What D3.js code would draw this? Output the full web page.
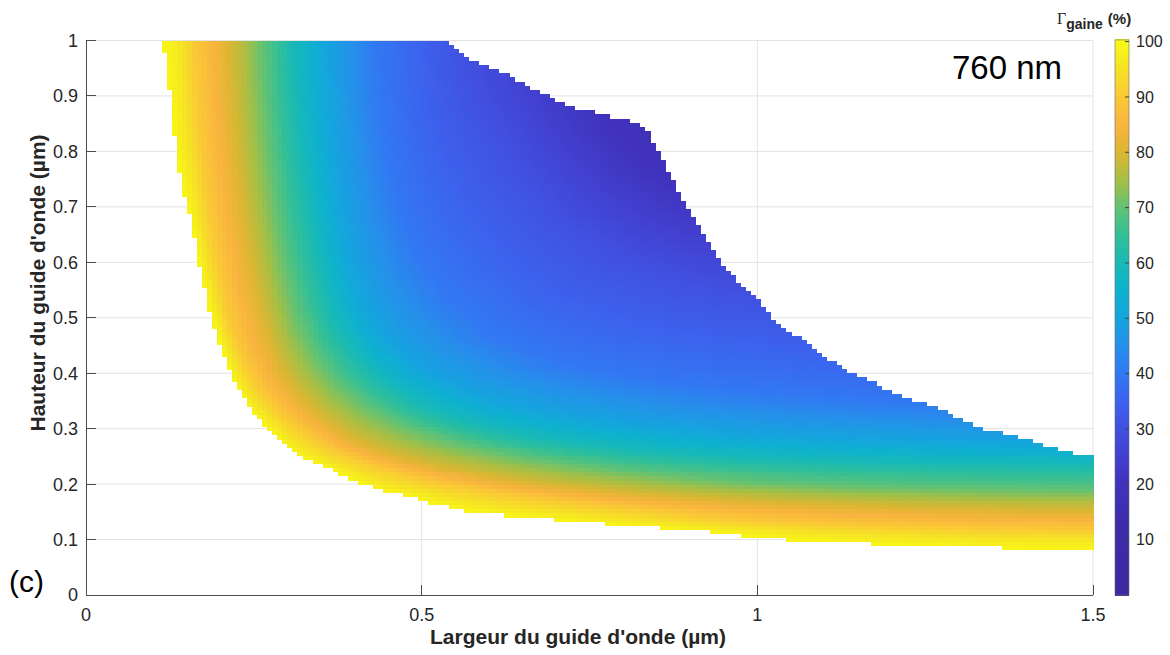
<!DOCTYPE html>
<html><head><meta charset="utf-8">
<script src="https://cdn.jsdelivr.net/npm/d3@7"></script>
<style>
body{margin:0;background:#fff}
text{font-family:"Liberation Sans",Arial,sans-serif;fill:#262626}
</style>
</head><body>
<svg id="chart" width="1170" height="655"></svg>
<script>
// ---------- data ----------
const xTicks = [0, 0.5, 1, 1.5];
const xTickLabels = ["0", "0.5", "1", "1.5"];
const yTicks = [0, 0.1, 0.2, 0.3, 0.4, 0.5, 0.6, 0.7, 0.8, 0.9, 1];
const yTickLabels = ["0", "0.1", "0.2", "0.3", "0.4", "0.5", "0.6", "0.7", "0.8", "0.9", "1"];
const cbTicks = [10, 20, 30, 40, 50, 60, 70, 80, 90, 100];

// lower boundary (cut-off) of the computed domain: width (µm) -> height (µm)
const cutoffW = [0.113,0.12,0.128,0.135,0.144,0.155,0.17,0.185,0.2,0.215,0.23,0.244,0.267,0.289,0.319,0.349,0.393,0.438,0.468,0.5,0.557,0.617,0.766,0.915,1.0,1.12,1.27,1.5];
const cutoffH = [1.0,0.952,0.86,0.79,0.73,0.685,0.586,0.505,0.45,0.405,0.364,0.337,0.306,0.28,0.25,0.234,0.21,0.19,0.184,0.171,0.153,0.145,0.13,0.117,0.103,0.095,0.088,0.081];

// upper boundary (multimode limit)
const multimodeW = [0.538,0.575,0.612,0.65,0.69,0.73,0.78,0.81,0.835,0.84,0.86,0.88,0.905,0.925,0.95,0.975,1.0,1.024,1.049,1.074,1.098,1.123,1.148,1.172,1.198,1.217,1.26,1.3,1.332,1.362,1.406,1.455,1.5];
const multimodeH = [1.0,0.965,0.947,0.923,0.898,0.878,0.862,0.857,0.842,0.82,0.779,0.73,0.682,0.64,0.592,0.562,0.532,0.496,0.472,0.455,0.43,0.412,0.394,0.383,0.367,0.356,0.343,0.318,0.301,0.294,0.28,0.258,0.25];

// iso-lines of Γgaine (%): [width, height]
const gammaLevels = [99, 90, 80, 70, 60, 50, 40, 30, 20, 15];
const iso90 = [[0.16,1.0],[0.165,0.9],[0.172,0.8],[0.182,0.7],[0.196,0.6],[0.212,0.5],[0.235,0.42],[0.26,0.37],[0.29,0.33],[0.33,0.29],[0.38,0.255],[0.44,0.228],[0.52,0.203],[0.62,0.183],[0.75,0.163],[0.9,0.145],[1.0,0.133],[1.2,0.125],[1.5,0.117]];
const iso80 = [[0.212,1.0],[0.217,0.9],[0.224,0.8],[0.234,0.7],[0.247,0.6],[0.264,0.5],[0.287,0.42],[0.312,0.37],[0.347,0.325],[0.39,0.287],[0.45,0.257],[0.53,0.23],[0.63,0.208],[0.8,0.186],[1.0,0.168],[1.2,0.159],[1.5,0.151]];
const iso70 = [[0.262,1.0],[0.267,0.9],[0.274,0.8],[0.284,0.7],[0.297,0.6],[0.316,0.5],[0.343,0.43],[0.376,0.38],[0.42,0.34],[0.48,0.302],[0.56,0.272],[0.66,0.247],[0.8,0.224],[1.0,0.204],[1.2,0.196],[1.5,0.19]];
const iso60 = [[0.308,1.0],[0.313,0.9],[0.32,0.8],[0.331,0.7],[0.346,0.6],[0.367,0.5],[0.397,0.44],[0.437,0.39],[0.495,0.345],[0.57,0.31],[0.67,0.284],[0.83,0.26],[1.0,0.246],[1.2,0.239],[1.5,0.235]];
const iso50 = [[0.358,1.0],[0.363,0.9],[0.37,0.8],[0.38,0.7],[0.396,0.6],[0.418,0.52],[0.448,0.46],[0.495,0.41],[0.565,0.37],[0.66,0.337],[0.8,0.31],[1.0,0.29],[1.2,0.282],[1.5,0.277]];
const iso40 = [[0.43,1.0],[0.44,0.85],[0.46,0.72],[0.49,0.62],[0.535,0.54],[0.6,0.47],[0.7,0.42],[0.85,0.385],[1.0,0.365],[1.2,0.35],[1.5,0.34]];
const iso30 = [[0.56,1.0],[0.59,0.88],[0.64,0.78],[0.71,0.68],[0.79,0.61],[0.9,0.565],[1.0,0.54],[1.2,0.51],[1.5,0.48]];
const iso20 = [[0.7,1.05],[0.73,0.95],[0.77,0.86],[0.83,0.78],[0.9,0.73],[1.0,0.69],[1.5,0.62]];
const iso15 = [[0.85,1.05],[0.9,0.9],[1.0,0.82],[1.5,0.72]];

// colour map (as seen on the colour bar)
const cmapValues = [0, 12, 20, 25, 30, 35, 40, 45, 50, 55, 60, 65, 70, 75, 80, 85, 90, 95, 100];
const cmapColors = ["#3c2aa0","#3d2ca8","#4032bc","#4240cf","#4150e0","#3c62ee","#3278f2","#2590ea","#15a4de","#0eb1cf","#18b9b6","#32bf98","#62c274","#a6bf45","#dcb632","#f9b43f","#fac935","#f5e225","#f9f915"];

// ---------- drawing ----------
const svg = d3.select("#chart");
const x = d3.scaleLinear().domain([0, 1.5]).range([86, 1093]);
const y = d3.scaleLinear().domain([0, 1]).range([595, 40.5]);
const cb = d3.scaleLinear().domain([0, 100]).range([595, 41.6]);
const color = d3.scaleLinear().domain(cmapValues).range(cmapColors).interpolate(d3.interpolateRgb).clamp(true);

// grid
const grid = svg.append("g").attr("stroke", "#e3e3e3").attr("stroke-width", 1);
yTicks.slice(1).forEach(t => grid.append("line").attr("x1", x(0)).attr("x2", x(1.5)).attr("y1", y(t)).attr("y2", y(t)));
xTicks.slice(1).forEach(t => grid.append("line").attr("x1", x(t)).attr("x2", x(t)).attr("y1", y(0)).attr("y2", y(1)));

// field
const cutoffPts = cutoffW.map((w, i) => [w, cutoffH[i]]);
const isoSets = [cutoffPts, iso90, iso80, iso70, iso60, iso50, iso40, iso30, iso20, iso15]
  .map(p => [[p[0][0], 100], ...p, [100, p[p.length - 1][1]]]);
const O = [0.06, 0.04];
function rayHit(poly, dx, dy) {
  let best = Infinity;
  for (let k = 0; k < poly.length - 1; k++) {
    const ax = poly[k][0], ay = poly[k][1], ex = poly[k+1][0] - ax, ey = poly[k+1][1] - ay;
    const den = dx * ey - dy * ex;
    if (Math.abs(den) < 1e-12) continue;
    const qx = ax - O[0], qy = ay - O[1];
    const t = (qx * ey - qy * ex) / den;
    const s = (qx * dy - qy * dx) / den;
    if (s >= -1e-9 && s <= 1 + 1e-9 && t > 0 && t < best) best = t;
  }
  return best;
}
function gammaAt(w, h) {
  const vx = w - O[0], vy = h - O[1];
  const r = Math.hypot(vx, vy);
  const dx = vx / r, dy = vy / r;
  const rs = isoSets.map(p => rayHit(p, dx, dy));
  if (r <= rs[0]) return 100;
  for (let k = 1; k < rs.length; k++) {
    if (r <= rs[k]) {
      const f = (r - rs[k-1]) / Math.max(1e-9, rs[k] - rs[k-1]);
      return gammaLevels[k-1] + (gammaLevels[k] - gammaLevels[k-1]) * f;
    }
  }
  return gammaLevels[gammaLevels.length - 1];
}
const lowerH = d3.scaleLinear().domain(cutoffW).range(cutoffH);
const upperH = d3.scaleLinear().domain(multimodeW).range(multimodeH).clamp(true);
function inside(w, h) {
  if (w < cutoffW[0] || w > 1.5) return false;
  const hi = w <= multimodeW[0] ? 1.0 : upperH(w);
  return h >= lowerH(w) && h <= hi;
}
const nW = 200, nH = 135, dw = 1.5 / nW, dh = 1 / nH;
const cells = [];
for (let i = 0; i < nW; i++) {
  for (let j = 0; j < nH; j++) {
    const wc = (i + 0.5) * dw, hc = (j + 0.5) * dh;
    if (inside(wc, hc)) cells.push({ i, j, v: gammaAt(wc, hc) });
  }
}
svg.append("g").attr("shape-rendering", "crispEdges")
  .selectAll("rect").data(cells).join("rect")
  .attr("x", d => x(d.i * dw))
  .attr("y", d => y((d.j + 1) * dh))
  .attr("width", d => x((d.i + 1) * dw) - x(d.i * dw) + 0.6)
  .attr("height", d => y(d.j * dh) - y((d.j + 1) * dh) + 0.6)
  .attr("fill", d => color(d.v));

// axes
const ax = svg.append("g").attr("stroke", "#4d4d4d").attr("stroke-width", 1).attr("shape-rendering", "crispEdges");
ax.append("line").attr("x1", x(0)).attr("x2", x(0)).attr("y1", y(0)).attr("y2", y(1));
ax.append("line").attr("x1", x(0)).attr("x2", x(1.5)).attr("y1", y(0)).attr("y2", y(0));
yTicks.forEach(t => ax.append("line").attr("x1", x(0)).attr("x2", x(0) + 10).attr("y1", y(t)).attr("y2", y(t)));
xTicks.forEach(t => ax.append("line").attr("x1", x(t)).attr("x2", x(t)).attr("y1", y(0)).attr("y2", y(0) - 10));

yTicks.forEach((t, i) => svg.append("text").attr("x", x(0) - 8).attr("y", y(t)).attr("dy", "0.36em")
  .attr("text-anchor", "end").attr("font-size", 18).text(yTickLabels[i]));
xTicks.forEach((t, i) => svg.append("text").attr("x", x(t)).attr("y", 621)
  .attr("text-anchor", "middle").attr("font-size", 18).text(xTickLabels[i]));

svg.append("text").attr("x", 578).attr("y", 644).attr("text-anchor", "middle")
  .attr("font-size", 21).attr("font-weight", "bold").text("Largeur du guide d'onde (µm)");
svg.append("text").attr("transform", "translate(45,283) rotate(-90)").attr("text-anchor", "middle")
  .attr("font-size", 21).attr("font-weight", "bold").text("Hauteur du guide d'onde (µm)");

// colour bar
const cbX = 1115, cbW = 14;
const cbSteps = d3.range(0, 100.4, 0.2);
svg.append("g").attr("shape-rendering", "crispEdges").selectAll("rect").data(cbSteps).join("rect")
  .attr("x", cbX).attr("width", cbW)
  .attr("y", v => cb(v + 0.2)).attr("height", v => cb(v) - cb(v + 0.2) + 0.5)
  .attr("fill", v => color(v));
svg.append("rect").attr("x", cbX).attr("y", cb(100.3)).attr("width", cbW).attr("height", cb(0) - cb(100.3))
  .attr("fill", "none").attr("stroke", "#6b6b6b").attr("stroke-width", 0.6);
cbTicks.forEach(t => {
  svg.append("line").attr("x1", cbX + cbW - 4).attr("x2", cbX + cbW).attr("y1", cb(t)).attr("y2", cb(t))
    .attr("stroke", "#404040").attr("stroke-width", 1);
  svg.append("text").attr("x", cbX + cbW + 7).attr("y", cb(t)).attr("dy", "0.36em")
    .attr("font-size", 16).text(t);
});
const cbTitle = svg.append("text").attr("x", 1057).attr("y", 24);
cbTitle.append("tspan").attr("font-family", "'Liberation Serif',serif").attr("font-size", 16).text("Γ");
cbTitle.append("tspan").attr("font-size", 14).attr("font-weight", "bold").attr("dy", 5).text("gaine");
cbTitle.append("tspan").attr("font-size", 15).attr("font-weight", "bold").attr("dy", -5).attr("dx", 5).text("(%)");

// annotations
svg.append("text").attr("x", 952).attr("y", 79).attr("font-family", "Lato,'Open Sans',sans-serif")
  .attr("font-size", 33).style("fill", "#000").text("760 nm");
svg.append("text").attr("x", 9).attr("y", 592).attr("font-family", "Lato,'Open Sans',sans-serif")
  .attr("font-size", 30).style("fill", "#000").text("(c)");
</script>
</body></html>
